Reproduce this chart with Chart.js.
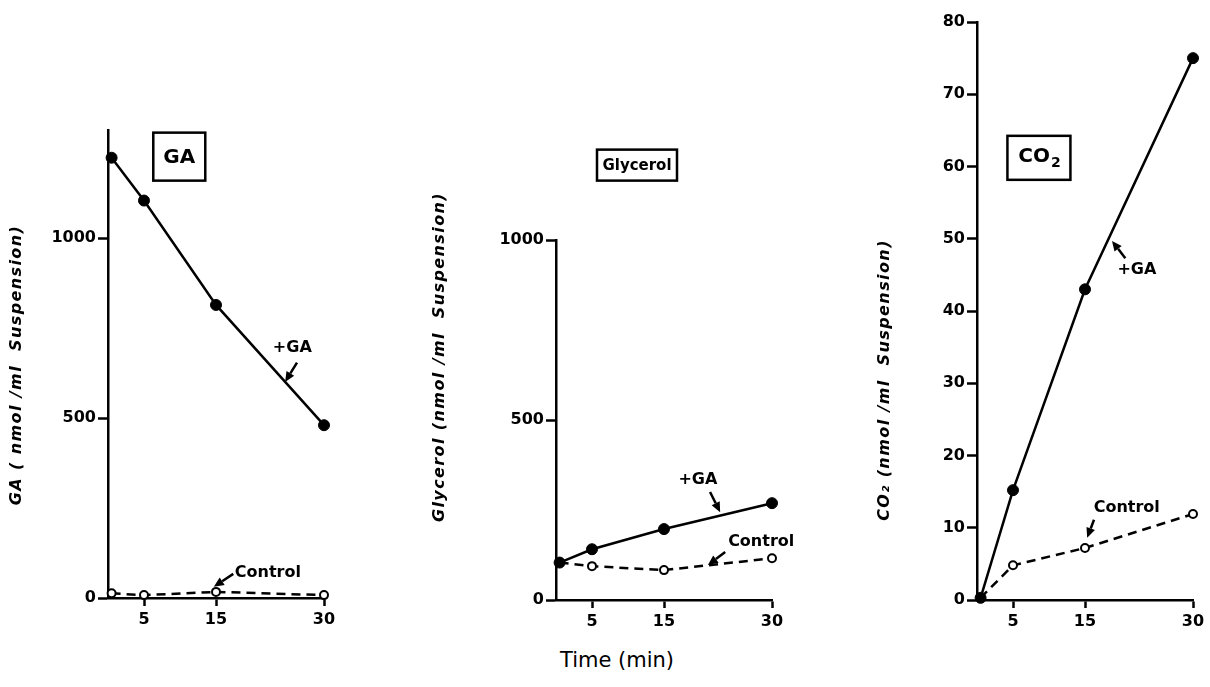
<!DOCTYPE html>
<html>
<head>
<meta charset="utf-8">
<script src="https://cdn.jsdelivr.net/npm/chart.js@4/dist/chart.umd.min.js"></script>
<style>
  html, body { margin:0; padding:0; background:#fff; }
  body { width:1210px; height:687px; position:relative; overflow:hidden; }
  .panel { position:absolute; }
  #timeLabel { position:absolute; left:560px; top:648px; font-family:"DejaVu Sans", sans-serif; font-size:21px; color:#000; white-space:nowrap; }
</style>
</head>
<body>
<div class="panel" style="left:0px;top:100px;width:345px;height:540px;"><canvas id="cGA" width="345" height="540"></canvas></div>
<div class="panel" style="left:420px;top:100px;width:380px;height:540px;"><canvas id="cGly" width="380" height="540"></canvas></div>
<div class="panel" style="left:870px;top:0px;width:340px;height:640px;"><canvas id="cCO2" width="340" height="640"></canvas></div>
<div id="timeLabel">Time (min)</div>
<script>
// ---- data ----
const timePoints = [0.5, 5, 15, 30];
const xTickValues = [5, 15, 30];

const gaPlusGA   = [1223, 1104, 814, 480];
const gaControl  = [13, 8, 17, 8];
const gaYTicks   = [0, 500, 1000];

const glyPlusGA  = [104, 141, 197, 269];
const glyControl = [104, 94, 83, 116];
const glyYTicks  = [0, 500, 1000];

const co2PlusGA  = [0.3, 15.2, 43, 75];
const co2Control = [0.3, 4.8, 7.2, 11.9];
const co2YTicks  = [0, 10, 20, 30, 40, 50, 60, 70, 80];

const seriesNames = ['+GA', 'Control'];

// ---- drawing helpers ----
const BOLD = 'bold 16px "DejaVu Sans", sans-serif';

function arrow(ctx, x1, y1, x2, y2) {
  const ang = Math.atan2(y2 - y1, x2 - x1);
  const L = 10, W = 4.5;
  const bx = x2 - L * Math.cos(ang), by = y2 - L * Math.sin(ang);
  ctx.beginPath();
  ctx.moveTo(x1, y1); ctx.lineTo(bx, by);
  ctx.lineWidth = 2.5; ctx.strokeStyle = '#000'; ctx.stroke();
  ctx.beginPath();
  ctx.moveTo(x2, y2);
  ctx.lineTo(bx + W * Math.sin(ang), by - W * Math.cos(ang));
  ctx.lineTo(bx - W * Math.sin(ang), by + W * Math.cos(ang));
  ctx.closePath(); ctx.fillStyle = '#000'; ctx.fill();
}

const annotPlugin = {
  id: 'annot',
  afterDatasetsDraw(chart, args, o) {
    const ctx = chart.ctx, xs = chart.scales.x, ys = chart.scales.y;
    const px = t => xs.getPixelForValue(t), py = v => ys.getPixelForValue(v);
    ctx.save();
    ctx.letterSpacing = '0px';
    // boxed panel label
    const b = o.box;
    const bx = px(b.t), by = py(b.v);
    ctx.lineWidth = 2.5; ctx.strokeStyle = '#000';
    ctx.strokeRect(bx - b.w / 2, by - b.h / 2, b.w, b.h);
    ctx.fillStyle = '#000'; ctx.textBaseline = 'middle';
    if (b.sub) {
      ctx.font = 'bold ' + b.size + 'px "DejaVu Sans", sans-serif';
      const w1 = ctx.measureText(b.text).width;
      ctx.font = 'bold ' + Math.round(b.size * 0.7) + 'px "DejaVu Sans", sans-serif';
      const w2 = ctx.measureText(b.sub).width;
      const x0 = bx - (w1 + w2) / 2;
      ctx.textAlign = 'left';
      ctx.font = 'bold ' + b.size + 'px "DejaVu Sans", sans-serif';
      ctx.fillText(b.text, x0, by - 1);
      ctx.font = 'bold ' + Math.round(b.size * 0.7) + 'px "DejaVu Sans", sans-serif';
      ctx.fillText(b.sub, x0 + w1 + 1, by + 6);
    } else {
      ctx.textAlign = 'center';
      ctx.font = 'bold ' + b.size + 'px "DejaVu Sans", sans-serif';
      ctx.fillText(b.text, bx, by + 1);
    }
    // series labels and arrows
    ctx.font = BOLD; ctx.textAlign = 'center';
    o.labels.forEach(l => {
      ctx.fillText(l.text, px(l.t), py(l.v));
      arrow(ctx, px(l.from[0]), py(l.from[1]), px(l.to[0]), py(l.to[1]));
    });
    // y-axis title
    const yt = o.yTitle;
    ctx.translate(yt.x, yt.y);
    ctx.rotate(-Math.PI / 2);
    ctx.font = 'italic bold 16px "DejaVu Sans", sans-serif';
    ctx.letterSpacing = '1.4px';
    ctx.textAlign = 'center'; ctx.textBaseline = 'middle';
    ctx.fillText(yt.text, 0, 0);
    ctx.restore();
  }
};

const tickFont = { family: '"DejaVu Sans", sans-serif', weight: 'bold', size: 16 };

function makePanel(id, plus, control, yMax, yTicks, geom, annot) {
  const ctx = document.getElementById(id).getContext('2d');
  return new Chart(ctx, {
    type: 'line',
    data: {
      datasets: [
        {
          label: seriesNames[0],
          data: timePoints.map((t, i) => ({ x: t, y: plus[i] })),
          borderColor: '#000', borderWidth: 2.5, backgroundColor: '#000',
          pointRadius: 5.5, pointBackgroundColor: '#000', pointBorderColor: '#000', pointBorderWidth: 1,
          tension: 0, clip: false
        },
        {
          label: seriesNames[1],
          data: timePoints.map((t, i) => ({ x: t, y: control[i] })),
          borderColor: '#000', borderWidth: 2.5, borderDash: [9, 6],
          pointRadius: 4, pointBackgroundColor: '#fff', pointBorderColor: '#000', pointBorderWidth: 2,
          tension: 0, clip: false
        }
      ]
    },
    options: {
      responsive: false, animation: false,
      layout: { padding: { top: geom.top, right: geom.right, left: 0, bottom: 0 } },
      plugins: { legend: { display: false }, tooltip: { enabled: false }, annot: annot },
      scales: {
        x: {
          type: 'linear', min: 0, max: 30,
          afterBuildTicks: s => { s.ticks = xTickValues.map(v => ({ value: v })); },
          afterFit: s => { s.height = geom.xh; },
          grid: { drawOnChartArea: false, drawTicks: true, tickLength: 8, tickWidth: 2.5, tickColor: '#000' },
          border: { display: true, color: '#000', width: 2.5 },
          ticks: { color: '#000', font: tickFont, padding: 4, maxRotation: 0, autoSkip: false, callback: v => String(v) }
        },
        y: {
          type: 'linear', min: 0, max: yMax,
          afterBuildTicks: s => { s.ticks = yTicks.map(v => ({ value: v })); },
          afterFit: s => { s.width = geom.yw; },
          grid: { drawOnChartArea: false, drawTicks: true, tickLength: 10, tickWidth: 2.5, tickColor: '#000' },
          border: { display: true, color: '#000', width: 2.5 },
          ticks: { color: '#000', font: tickFont, padding: 2, autoSkip: false, callback: v => String(v) }
        }
      }
    },
    plugins: [annotPlugin]
  });
}

makePanel('cGA', gaPlusGA, gaControl, 1300, gaYTicks,
  { top: 30, right: 21, yw: 108, xh: 42 },
  {
    box: { t: 9.9, v: 1226, w: 52, h: 48, text: 'GA', size: 20 },
    labels: [
      { text: '+GA', t: 25.6, v: 696, from: [26.25, 654], to: [24.6, 600] },
      { text: 'Control', t: 22.2, v: 70, from: [17.4, 67], to: [14.7, 31] }
    ],
    yTitle: { text: 'GA ( nmol /ml  Suspension)', x: 17, y: 265 }
  });

makePanel('cGly', glyPlusGA, glyControl, 1000, glyYTicks,
  { top: 140, right: 28, yw: 136, xh: 40 },
  {
    box: { t: 11.25, v: 1208, w: 80, h: 31, text: 'Glycerol', size: 15 },
    labels: [
      { text: '+GA', t: 19.7, v: 333, from: [21.4, 300], to: [22.8, 244] },
      { text: 'Control', t: 28.5, v: 161, from: [23.5, 133], to: [21.1, 97] }
    ],
    yTitle: { text: 'Glycerol (nmol /ml  Suspension)', x: 20, y: 257 }
  });

makePanel('cCO2', co2PlusGA, co2Control, 80, co2YTicks,
  { top: 22, right: 17, yw: 107, xh: 40 },
  {
    box: { t: 8.6, v: 61.2, w: 63, h: 44, text: 'CO', sub: '2', size: 20 },
    labels: [
      { text: '+GA', t: 22.2, v: 45.7, from: [20.6, 47.3], to: [18.75, 49.7] },
      { text: 'Control', t: 20.8, v: 12.7, from: [16.25, 11.1], to: [15.3, 8.6] }
    ],
    yTitle: { text: 'CO\u2082 (nmol /ml  Suspension)', x: 15, y: 380 }
  });
</script>
</body>
</html>
